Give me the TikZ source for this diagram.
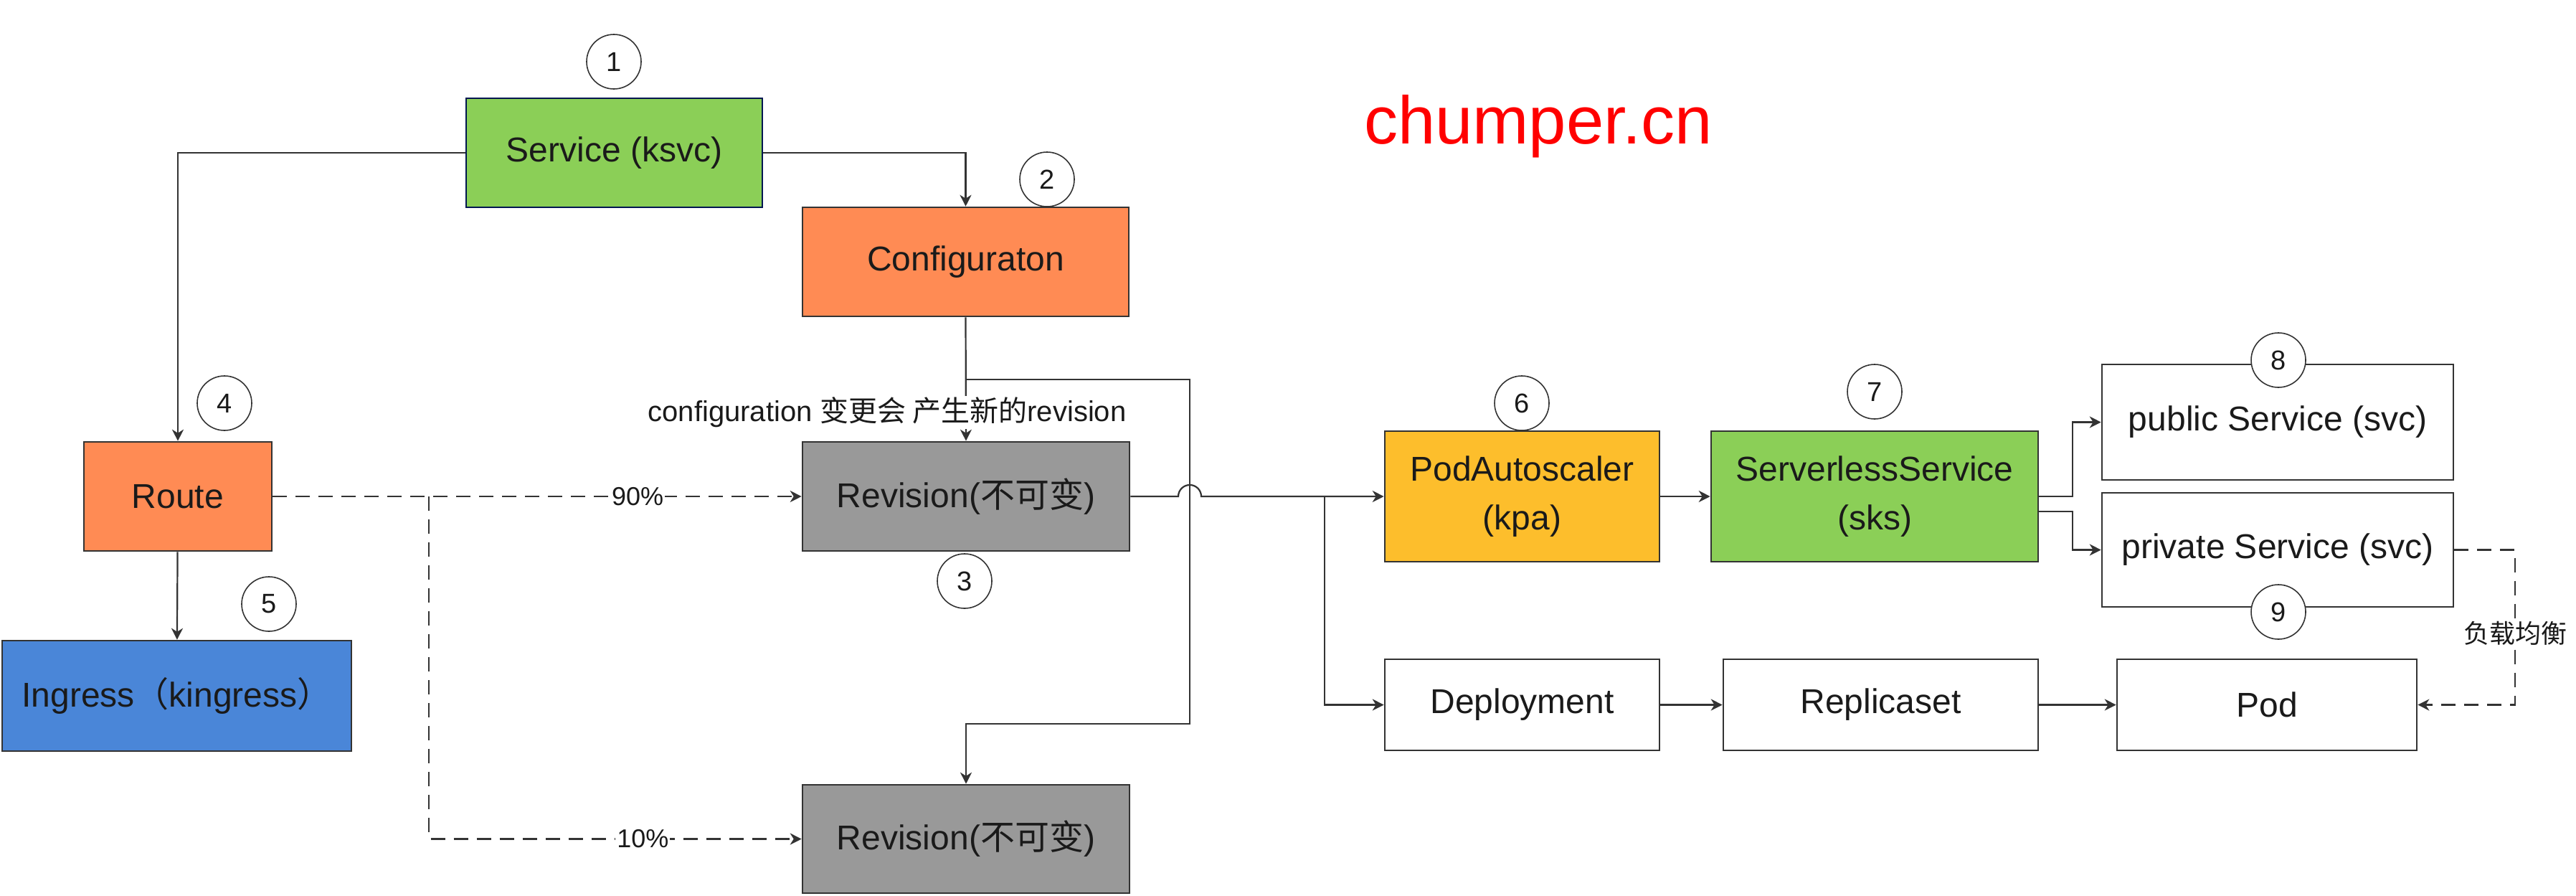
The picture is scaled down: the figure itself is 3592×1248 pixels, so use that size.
\documentclass[tikz,border=0pt]{standalone}
\usepackage{fontspec}
\setmainfont{Liberation Sans}
\newfontfamily\cjk{Noto Sans CJK SC}
\usetikzlibrary{arrows.meta}
\definecolor{kgreen}{RGB}{139,207,87}
\definecolor{korange}{RGB}{255,139,84}
\definecolor{kgray}{RGB}{153,153,153}
\definecolor{kyellow}{RGB}{253,190,44}
\definecolor{kblue}{RGB}{74,134,216}
\definecolor{navy}{RGB}{0,22,80}
\definecolor{linegray}{RGB}{51,51,51}
\definecolor{txt}{RGB}{26,26,26}
\begin{document}
\begin{tikzpicture}[
  x=0.5pt, y=-0.5pt,
  box/.style={rectangle, draw=linegray, line width=1.3pt, inner sep=0pt, align=center,
    text=txt, font=\fontsize{24}{34}\selectfont},
  boxsize/.style 2 args={minimum width=#1*0.5pt, minimum height=#2*0.5pt},
  num/.style={circle, draw=linegray, line width=0.8pt, fill=white, minimum size=38pt,
    inner sep=0pt, text=txt, font=\fontsize{19}{22}\selectfont},
  link/.style={draw=linegray, line width=1.1pt, -{Stealth[length=8pt, width=8pt, inset=2.5pt]}},
  dlink/.style={link, dash pattern=on 10pt off 6pt},
  tag/.style={fill=white, inner sep=1pt, text=txt, font=\fontsize{18}{22}\selectfont}
]
\useasboundingbox (0,0) rectangle (3592,1248);

\node[text=red, font=\fontsize{47}{56}\selectfont] (site) at (2145,176) {chumper.cn};

\node[box, fill=kgreen, draw=navy, boxsize={413}{152}] (ksvc) at (856.5,213) {Service (ksvc)};
\node[box, fill=korange, boxsize={455}{152}] (config) at (1346.5,365) {Configuraton};
\node[box, fill=korange, boxsize={262}{152}] (route) at (248,692) {Route};
\node[box, fill=kblue, boxsize={487}{154}] (ingress) at (246.5,970) {Ingress{\cjk （}kingress{\cjk ）}};
\node[box, fill=kgray, boxsize={456}{152}] (rev1) at (1347,692) {Revision({\cjk 不可变})};
\node[box, fill=kgray, boxsize={456}{151}] (rev2) at (1347,1169.5) {Revision({\cjk 不可变})};
\node[box, fill=kyellow, boxsize={383}{182}] (kpa) at (2122.5,692) {PodAutoscaler\\(kpa)};
\node[box, fill=kgreen, boxsize={456}{182}] (sks) at (2614,692) {ServerlessService\\(sks)};
\node[box, fill=white, boxsize={490}{161}] (pubsvc) at (3176,588.5) {public Service (svc)};
\node[box, fill=white, boxsize={490}{159}] (privsvc) at (3176,766.5) {private Service (svc)};
\node[box, fill=white, boxsize={383}{127}] (deploy) at (2122.5,982.5) {Deployment};
\node[box, fill=white, boxsize={439}{127}] (rs) at (2622.5,982.5) {Replicaset};
\node[box, fill=white, boxsize={418}{127}] (pod) at (3161,982.5) {Pod};

\foreach \n/\x/\y in {1/856/86, 2/1460/250, 3/1345/810, 4/313/562, 5/375/842,
                      6/2122/562, 7/2614/546, 8/3177/502, 9/3177/853}
  \node[num] (c\n) at (\x,\y) {\n};

\draw[link] (ksvc.west) -| (route.north);
\draw[link] (ksvc.east) -| (config.north);
\draw[link] (route) -- (ingress);

\draw[link] (config.south) -- (rev1.north);
\node[tag, font=\fontsize{20}{24}\selectfont] (cfgnote) at (1237,575)
  {configuration {\cjk 变更会 产生新的}revision};
\coordinate (split) at (1347,529);
\draw[link] (split) -- (1659,529) |- (1347,1009) -- (rev2.north);

\coordinate (fork) at (1847,692);
\draw[link] (rev1.east) -- (1643,692) arc[start angle=180, end angle=0, radius=8pt] -- (fork) -- (kpa.west);
\draw[link] (fork) |- (deploy.west);

\draw[link] (kpa) -- (sks);
\draw[link] (sks.east) -- ++(47,0) |- (pubsvc.west);
\draw[link] ([yshift=-10.5pt]sks.east) -- ++(47,0) |- (privsvc.west);

\draw[link] (deploy) -- (rs);
\draw[link] (rs) -- (pod);

\draw[dlink] (privsvc.east) -- ++(85,0) |- (pod.east);
\node[tag] (lb) at (3507,883) {\cjk 负载均衡};

\coordinate (split2) at (598,692);
\draw[dlink] (route.east) -- (rev1.west) node[tag, pos=0.69] (p90) {90\%};
\draw[dlink] (split2) |- (rev2.west) node[tag, pos=0.787] (p10) {10\%};
\end{tikzpicture}
\end{document}
